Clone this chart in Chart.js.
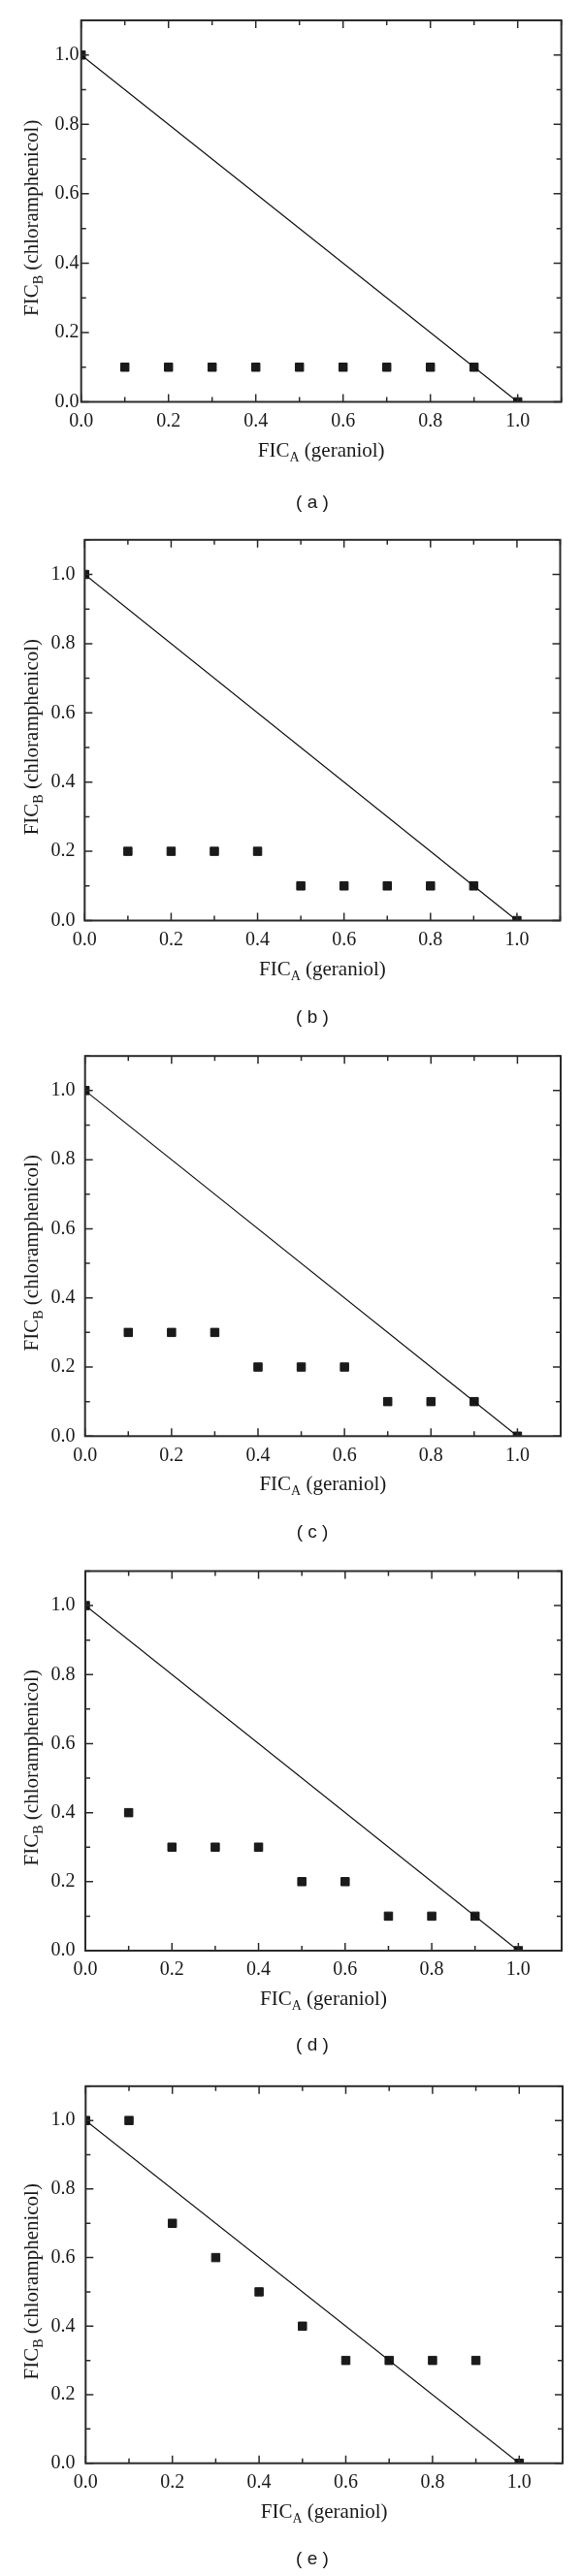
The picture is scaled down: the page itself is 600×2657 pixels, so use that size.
<!DOCTYPE html>
<html>
<head>
<meta charset="utf-8">
<script src="https://cdn.jsdelivr.net/npm/chart.js@4.4.1/dist/chart.umd.min.js"></script>
<style>
body { margin: 0; background: #fff; }
#page { position: relative; width: 600px; height: 2657px; }
.panel { position: absolute; left: 0; width: 600px; height: 532px; }
</style>
</head>
<body>
<div id="page"></div>
<script>
// Values (FIC index isobolograms)
const ficA = [0, 0.1, 0.2, 0.3, 0.4, 0.5, 0.6, 0.7, 0.8, 0.9, 1.0];
const ficB_a = [1.0, 0.1, 0.1, 0.1, 0.1, 0.1, 0.1, 0.1, 0.1, 0.1, 0];
const ficB_b = [1.0, 0.2, 0.2, 0.2, 0.2, 0.1, 0.1, 0.1, 0.1, 0.1, 0];
const ficB_c = [1.0, 0.3, 0.3, 0.3, 0.2, 0.2, 0.2, 0.1, 0.1, 0.1, 0];
const ficB_d = [1.0, 0.4, 0.3, 0.3, 0.3, 0.2, 0.2, 0.1, 0.1, 0.1, 0];
const ficB_e = [1.0, 1.0, 0.7, 0.6, 0.5, 0.4, 0.3, 0.3, 0.3, 0.3, 0];
const seriesB = [ficB_a, ficB_b, ficB_c, ficB_d, ficB_e];
// additivity line
const lineX = [0, 1];
const lineY = [1, 0];
const panelNames = ['a', 'b', 'c', 'd', 'e'];
const xTitle = [{ text: 'FIC', sub: false }, { text: 'A', sub: true }, { text: ' (geraniol)', sub: false }];
const yTitle = [{ text: 'FIC', sub: false }, { text: 'B', sub: true }, { text: ' (chloramphenicol)', sub: false }];

// Layout of each panel on the page (px)
const plotTop = [21, 555.5, 1087.7, 1619, 2150];
const plotBottom = [414.5, 949, 1481, 2012, 2540.7];
const plotLeft = [83.7, 87.3, 87.7, 88, 88.3];
const plotRight = [578.7, 577.5, 578, 579, 580];
const labelY = [519, 1049.5, 1580, 2110, 2640];
const yLabelRight = [81.5, 77.5, 77.5, 77.5, 77.5];
const canvasH = 532;
const xAxisH = 70;

const serif = '"Liberation Serif", "Times New Roman", serif';
const ink = '#1a1a1a';

function isMajor(v) {
    return Math.round(v * 10) % 2 === 0;
}

function drawRich(ctx, parts, x, y) {
    let total = 0;
    for (const p of parts) {
        ctx.font = (p.sub ? 14 : 21) + 'px ' + serif;
        p.w = ctx.measureText(p.text).width;
        total += p.w;
    }
    let cx = x - total / 2;
    for (const p of parts) {
        ctx.font = (p.sub ? 14 : 21) + 'px ' + serif;
        ctx.fillText(p.text, cx, y + (p.sub ? 5 : 0));
        cx += p.w;
    }
}

// frame with inward ticks, axis titles and panel letter
const frameTicks = {
    id: 'frameTicks',
    afterDraw(chart, args, opts) {
        const { ctx, chartArea: a, scales: { x, y } } = chart;
        ctx.save();
        ctx.strokeStyle = '#2b2b2b';
        ctx.lineWidth = 2;
        ctx.strokeRect(a.left, a.top, a.right - a.left, a.bottom - a.top);
        ctx.lineWidth = 1.5;
        ctx.beginPath();
        for (const t of x.ticks) {
            const px = x.getPixelForValue(t.value);
            const len = isMajor(t.value) ? 8 : 5;
            ctx.moveTo(px, a.bottom); ctx.lineTo(px, a.bottom - len);
            ctx.moveTo(px, a.top); ctx.lineTo(px, a.top + len);
        }
        for (const t of y.ticks) {
            const py = y.getPixelForValue(t.value);
            const len = isMajor(t.value) ? 8 : 5;
            ctx.moveTo(a.left, py); ctx.lineTo(a.left + len, py);
            ctx.moveTo(a.right, py); ctx.lineTo(a.right - len, py);
        }
        ctx.stroke();

        ctx.fillStyle = ink;
        ctx.textAlign = 'left';
        ctx.textBaseline = 'alphabetic';
        drawRich(ctx, xTitle, (a.left + a.right) / 2, a.bottom + 56);
        ctx.save();
        ctx.translate(39, (a.top + a.bottom) / 2 + 7);
        ctx.rotate(-Math.PI / 2);
        drawRich(ctx, yTitle, 0, 0);
        ctx.restore();

        ctx.font = '19px "Liberation Sans", Arial, sans-serif';
        ctx.textAlign = 'center';
        ctx.textBaseline = 'middle';
        ctx.fillText('( ' + opts.name + ' )', 322, opts.labelY);
        ctx.restore();
    }
};

const page = document.getElementById('page');

panelNames.forEach((name, i) => {
    const top0 = plotTop[i] - 21;
    const div = document.createElement('div');
    div.className = 'panel';
    div.style.top = top0 + 'px';
    const cv = document.createElement('canvas');
    cv.width = 600;
    cv.height = canvasH;
    div.appendChild(cv);
    page.appendChild(div);

    const pts = ficA.map((v, k) => ({ x: v, y: seriesB[i][k] }));
    const line = lineX.map((v, k) => ({ x: v, y: lineY[k] }));

    new Chart(cv, {
        type: 'scatter',
        data: {
            datasets: [{
                data: line,
                showLine: true,
                borderColor: '#111',
                borderWidth: 1.2,
                pointRadius: 0,
                clip: 0
            }, {
                data: pts,
                pointStyle: 'rect',
                pointRadius: 6,
                backgroundColor: ink,
                borderColor: ink,
                borderWidth: 1,
                clip: 0
            }]
        },
        options: {
            responsive: false,
            animation: false,
            devicePixelRatio: 1,
            layout: {
                padding: {
                    top: 21,
                    left: 0,
                    right: 600 - plotRight[i],
                    bottom: canvasH - xAxisH - (plotBottom[i] - top0)
                }
            },
            plugins: {
                legend: { display: false },
                tooltip: { enabled: false },
                frameTicks: { name: name, labelY: labelY[i] - top0 }
            },
            scales: {
                x: {
                    type: 'linear',
                    min: 0,
                    max: 1.1,
                    grid: { display: false, drawTicks: false },
                    border: { display: false },
                    afterFit: (s) => { s.height = xAxisH; },
                    ticks: {
                        stepSize: 0.1,
                        autoSkip: false,
                        maxRotation: 0,
                        padding: 8,
                        color: ink,
                        font: { family: serif, size: 20 },
                        callback: (v) => isMajor(v) ? v.toFixed(1) : ''
                    }
                },
                y: {
                    type: 'linear',
                    min: 0,
                    max: 1.1,
                    grid: { display: false, drawTicks: false },
                    border: { display: false },
                    afterFit: (s) => { s.width = plotLeft[i]; },
                    ticks: {
                        stepSize: 0.1,
                        autoSkip: false,
                        padding: plotLeft[i] - yLabelRight[i],
                        color: ink,
                        font: { family: serif, size: 20 },
                        callback: (v) => isMajor(v) ? v.toFixed(1) : ''
                    }
                }
            }
        },
        plugins: [frameTicks]
    });
});
</script>
</body>
</html>
